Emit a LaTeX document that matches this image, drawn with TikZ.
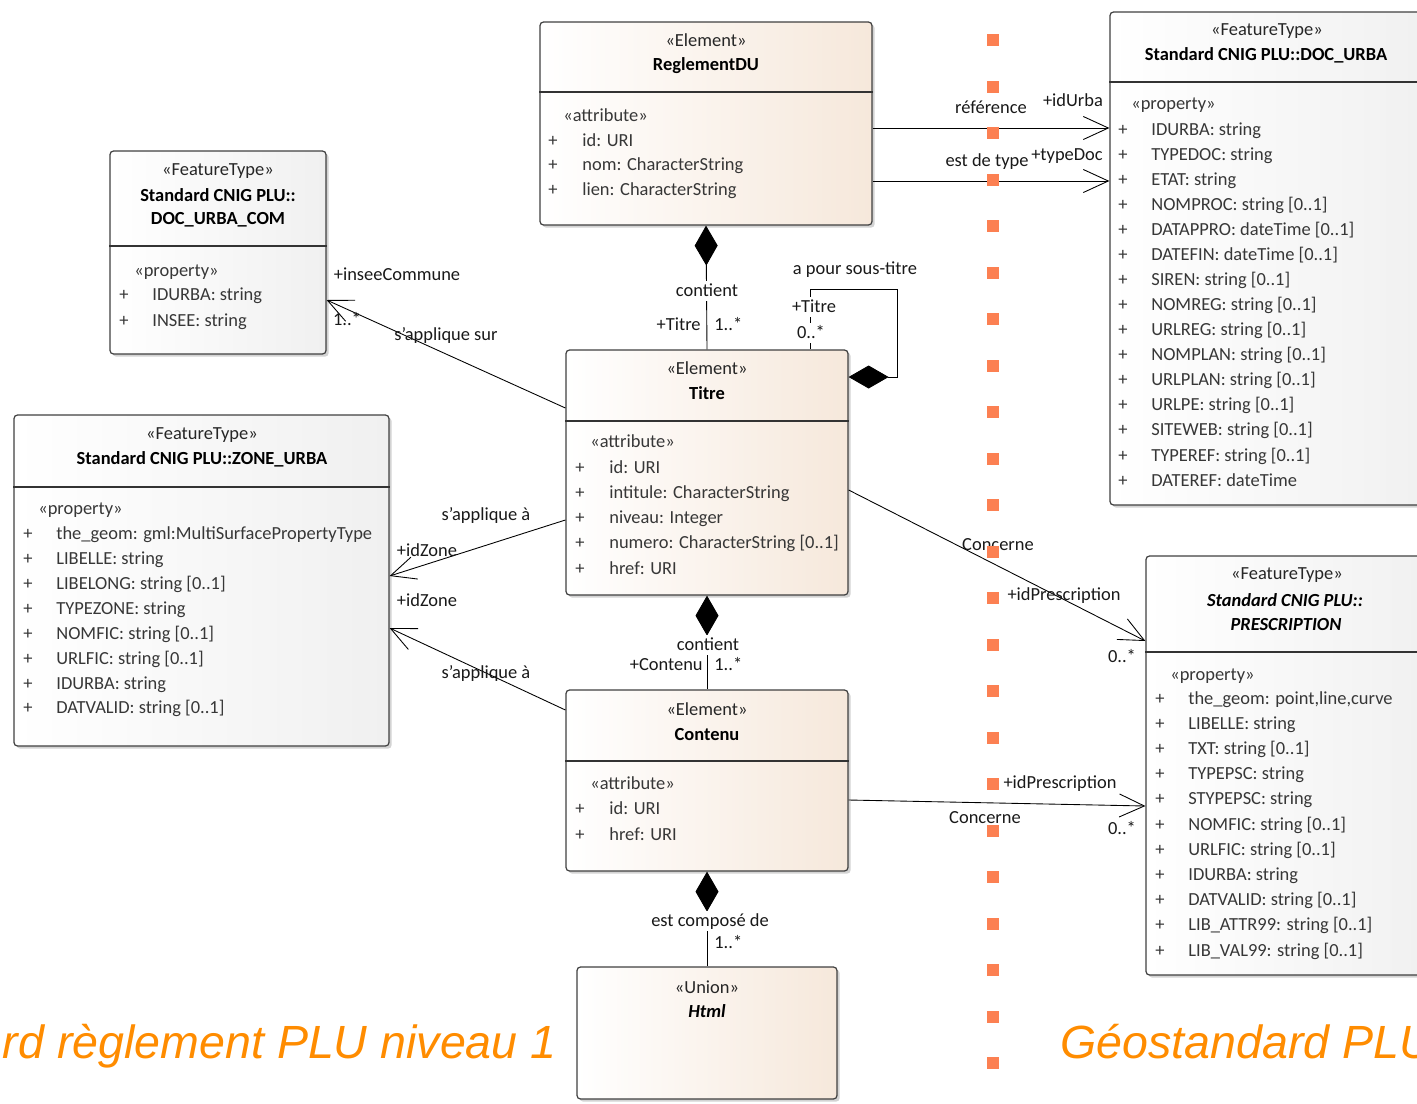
\documentclass[tikz,border=0pt]{standalone}
\usepackage{fontspec}
\setmainfont{Carlito}
\newfontfamily\bannerfont{Liberation Sans}
\usetikzlibrary{positioning,shadows,arrows.meta,fit}
\definecolor{peach}{RGB}{246,232,219}
\definecolor{featgray}{RGB}{240,240,240}
\definecolor{dotorange}{RGB}{252,128,82}
\definecolor{bannerorange}{RGB}{255,140,0}
\definecolor{attrgray}{RGB}{55,55,55}

\begin{document}
\begin{tikzpicture}[x=0.02cm,y=0.02cm,font=\fontsize{10.5}{12}\selectfont]
\tikzstyle{every node}+=[inner sep=0pt]
\tikzstyle{umlbox}=[draw=black!75, line width=0.7pt, rounded corners=2pt, drop shadow={shadow xshift=1.5pt,shadow yshift=-1.5pt,opacity=0.35}]
\tikzstyle{elem}=[umlbox, left color=white, right color=peach]
\tikzstyle{feat}=[umlbox, left color=white, right color=featgray]
\tikzstyle{sep}=[black!80, line width=0.7pt]
\tikzstyle{stereo}=[text=black!85]
\tikzstyle{cname}=[font=\fontsize{10.5}{12}\selectfont\bfseries]
\tikzstyle{attr}=[anchor=west, text=attrgray, text height=1.6ex, text depth=0.4ex]
\tikzstyle{plus}=[text=attrgray, text height=1.6ex, text depth=0.4ex]
\tikzstyle{lbl}=[text=black!90, text height=1.6ex, text depth=0.4ex]
\tikzstyle{lblw}=[lbl, fill=white, inner sep=1pt]
\tikzstyle{nav}=[black, line width=0.5pt, -{Straight Barb[length=0.5cm,width=0.46cm]}]
\tikzstyle{comp}=[black, line width=0.5pt, {Diamond[length=0.8cm,width=0.46cm]}-]
\tikzstyle{banner}=[text=bannerorange, font=\bannerfont\itshape\fontsize{26.5}{30}\selectfont]

\useasboundingbox (0,0) rectangle (1417,-1103);

\node [elem, fit={(540,-22) (872,-225)}] (regl) {};
\draw [sep] (regl.west |- 0,-92) -- (regl.east |- 0,-92);
\node [stereo] (reglst) at (706,-40) {«Element»};
\node [cname] (reglnm) at (706,-66) {ReglementDU};
\node [attr] (reglat) at (563,-116) {«attribute»};
\foreach \lbltext [count=\i] in {id: URI, nom: CharacterString, lien: CharacterString} {
  \node [plus] (reglp\i) at (553,{-116.5-24.5*\i}) {+};
  \node [attr] (regl\i) at (582,{-116.5-24.5*\i}) {\lbltext};
}

\node [feat, fit={(1110,-12) (1440,-505)}] (docurba) {};
\draw [sep] (docurba.west |- 0,-82) -- (1417,-82);
\node [stereo] (docurbast) at (1267,-31) {«FeatureType»};
\node [cname] (docurbanm) at (1266,-55) {Standard CNIG PLU::DOC\_URBA};
\node [attr] (docurbapr) at (1131,-104) {«property»};
\foreach \lbltext [count=\i] in {IDURBA: string, TYPEDOC: string, ETAT: string, NOMPROC: string [0..1], DATAPPRO: dateTime [0..1], DATEFIN: dateTime [0..1], SIREN: string [0..1], NOMREG: string [0..1], URLREG: string [0..1], NOMPLAN: string [0..1], URLPLAN: string [0..1], URLPE: string [0..1], SITEWEB: string [0..1], TYPEREF: string [0..1], DATEREF: dateTime} {
  \node [plus] (docurbap\i) at (1123,{-105-25.07*\i}) {+};
  \node [attr] (docurba\i) at (1151,{-105-25.07*\i}) {\lbltext};
}

\node [feat, fit={(110,-151) (326,-354)}] (doccom) {};
\draw [sep] (doccom.west |- 0,-246) -- (doccom.east |- 0,-246);
\node [stereo] (doccomst) at (218,-171) {«FeatureType»};
\node [cname] (doccomnm) at (218,-195) {Standard CNIG PLU::};
\node [cname] (doccomnm2) at (218,-220) {DOC\_URBA\_COM};
\node [attr] (doccompr) at (134,-271) {«property»};
\foreach \lbltext [count=\i] in {IDURBA: string, INSEE: string} {
  \node [plus] (doccomp\i) at (124,{-269-26*\i}) {+};
  \node [attr] (doccom\i) at (152,{-269-26*\i}) {\lbltext};
}

\node [feat, fit={(14,-415) (389,-746)}] (zone) {};
\draw [sep] (zone.west |- 0,-487) -- (zone.east |- 0,-487);
\node [stereo] (zonest) at (202,-435) {«FeatureType»};
\node [cname] (zonenm) at (202,-459) {Standard CNIG PLU::ZONE\_URBA};
\node [attr] (zonepr) at (38,-509) {«property»};
\foreach \lbltext [count=\i] in {the\_geom: gml:MultiSurfacePropertyType, LIBELLE: string, LIBELONG: string [0..1], TYPEZONE: string, NOMFIC: string [0..1], URLFIC: string [0..1], IDURBA: string, DATVALID: string [0..1]} {
  \node [plus] (zonep\i) at (28,{-510-24.86*\i}) {+};
  \node [attr] (zone\i) at (56,{-510-24.86*\i}) {\lbltext};
}

\node [elem, fit={(566,-350) (848,-595)}] (titre) {};
\draw [sep] (titre.west |- 0,-421) -- (titre.east |- 0,-421);
\node [stereo] (titrest) at (707,-368) {«Element»};
\node [cname] (titrenm) at (707,-393) {Titre};
\node [attr] (titreat) at (590,-442) {«attribute»};
\foreach \lbltext [count=\i] in {id: URI, intitule: CharacterString, niveau: Integer, numero: CharacterString [0..1], href: URI} {
  \node [plus] (titrep\i) at (580,{-442.75-25.25*\i}) {+};
  \node [attr] (titre\i) at (609,{-442.75-25.25*\i}) {\lbltext};
}

\node [elem, fit={(566,-690) (848,-871)}] (contenu) {};
\draw [sep] (contenu.west |- 0,-761) -- (contenu.east |- 0,-761);
\node [stereo] (contenust) at (707,-709) {«Element»};
\node [cname] (contenunm) at (707,-735) {Contenu};
\node [attr] (contenuat) at (590,-784) {«attribute»};
\foreach \lbltext [count=\i] in {id: URI, href: URI} {
  \node [plus] (contenup\i) at (580,{-783-26*\i}) {+};
  \node [attr] (contenu\i) at (609,{-783-26*\i}) {\lbltext};
}

\node [elem, fit={(577,-967) (837,-1099)}] (html) {};
\node [stereo] (htmlst) at (707,-987) {«Union»};
\node [cname, font=\fontsize{10.5}{12}\selectfont\bfseries\itshape] (htmlnm) at (707,-1011) {Html};

\node [feat, fit={(1146,-556) (1440,-975)}] (prescr) {};
\draw [sep] (prescr.west |- 0,-652) -- (1417,-652);
\node [stereo] (prescrst) at (1287,-575) {«FeatureType»};
\node [cname, font=\fontsize{10.5}{12}\selectfont\bfseries\itshape] (prescrnm) at (1285,-600) {Standard CNIG PLU::};
\node [cname, font=\fontsize{10.5}{12}\selectfont\bfseries\itshape] (prescrnm2) at (1286,-625) {PRESCRIPTION};
\node [attr] (prescrpr) at (1170,-675) {«property»};
\foreach \lbltext [count=\i] in {{the\_geom: point,line,curve}, LIBELLE: string, TXT: string [0..1], TYPEPSC: string, STYPEPSC: string, NOMFIC: string [0..1], URLFIC: string [0..1], IDURBA: string, DATVALID: string [0..1], LIB\_ATTR99: string [0..1], LIB\_VAL99: string [0..1]} {
  \node [plus] (prescrp\i) at (1160,{-673.8-25.2*\i}) {+};
  \node [attr] (prescr\i) at (1188,{-673.8-25.2*\i}) {\lbltext};
}

\draw [nav] (regl.east |- 0,-128) -- (docurba.west |- 0,-128);
\node [lbl] (refl) at (991,-108) {référence};
\node [lbl] (refr) at (1073,-101) {+idUrba};
\draw [nav] (regl.east |- 0,-181) -- (docurba.west |- 0,-181);
\node [lbl] (typl) at (987,-161) {est de type};
\node [lbl] (typr) at (1067,-155) {+typeDoc};

\draw [comp] (regl.south) -- (titre.north);
\node [lblw] (cont1) at (707,-291) {contient};
\node [lbl, anchor=east] (cont1r) at (701,-325) {+Titre};
\node [lbl, anchor=west] (cont1m) at (714,-325) {1..*};

\draw [comp] (titre.east |- 0,-377) -| (897,-289) -| (titre.north -| 810,0);
\node [lbl] (soustl) at (855,-269) {a pour sous-titre};
\node [lblw] (soustr) at (814,-307) {+Titre};
\node [lblw] (soustm) at (811,-333) {0..*};

\draw [nav] (titre.west |- 0,-408) -- (doccom.east |- 0,-300);
\node [lbl] (inseer) at (397,-275) {+inseeCommune};
\node [lbl] (inseem) at (347,-320) {1..*};
\node [lbl] (inseel) at (446,-335) {s'applique sur};

\draw [nav] (titre.west |- 0,-520) -- (zone.east |- 0,-576);
\node [lbl] (zone1l) at (486,-515) {s'applique à};
\node [lbl] (zone1r) at (427,-551) {+idZone};
\draw [nav] (contenu.west |- 0,-710) -- (zone.east |- 0,-628);
\node [lbl] (zone2r) at (427,-601) {+idZone};
\node [lbl] (zone2l) at (486,-673) {s'applique à};

\draw [comp] (titre.south) -- (contenu.north);
\node [lblw] (cont2) at (708,-645) {contient};
\node [lbl, anchor=east] (cont2r) at (703,-665) {+Contenu};
\node [lbl, anchor=west] (cont2m) at (714,-665) {1..*};

\draw [comp] (contenu.south) -- (html.north);
\node [lblw] (compo) at (710,-921) {est composé de};
\node [lbl, anchor=west] (compom) at (714,-943) {1..*};

\draw [nav] (titre.east |- 0,-490) -- (prescr.west |- 0,-641);
\node [lbl] (conc1l) at (998,-545) {Concerne};
\node [lbl] (conc1r) at (1064,-595) {+idPrescription};
\node [lbl] (conc1m) at (1122,-657) {0..*};
\draw [nav] (contenu.east |- 0,-800) -- (prescr.west |- 0,-806);
\node [lbl] (conc2l) at (985,-818) {Concerne};
\node [lbl] (conc2r) at (1060,-783) {+idPrescription};
\node [lbl] (conc2m) at (1122,-829) {0..*};

\foreach \k in {0,...,22}
  \fill [dotorange] (987,{-34-46.5*\k}) rectangle +(12,-12);

\node [banner, anchor=base east] (leftbanner) at (557,-1058) {rd règlement PLU niveau 1};
\node [banner, anchor=base west] (rightbanner) at (1060,-1058) {Géostandard PLU};
\end{tikzpicture}
\end{document}
